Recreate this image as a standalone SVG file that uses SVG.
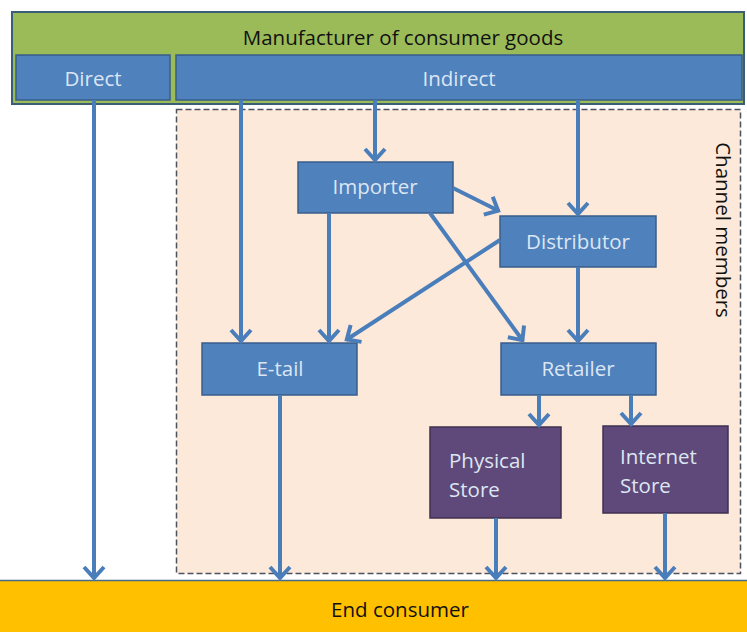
<svg xmlns="http://www.w3.org/2000/svg" width="747" height="632" viewBox="0 0 747 632">
<defs>
<style>
.blue{fill:#4f81bd;stroke:#385d8a;stroke-width:1.5}
.purple{fill:#5f497a;stroke:#3f3151;stroke-width:1.5}
.lt{font-family:"Open Sans","Noto Sans","Liberation Sans",sans-serif;font-size:20.5px;fill:#dce6f2}
.dk{font-family:"Open Sans","Noto Sans","Liberation Sans",sans-serif;font-size:20.5px;fill:#111111}
.c{text-anchor:middle}
.arr{stroke:#4a7ebb;stroke-width:4;fill:none;marker-end:url(#ah)}
</style>
<marker id="ah" markerUnits="userSpaceOnUse" markerWidth="30" markerHeight="30" viewBox="-15 -15 30 30" refX="0" refY="0" orient="auto">
<path d="M-12,-10 L-1,0 L-12,10" fill="none" stroke="#4a7ebb" stroke-width="4"/>
</marker>
</defs>
<rect width="747" height="632" fill="#ffffff"/>
<g id="channel-members">
<rect x="176.5" y="109.5" width="564" height="464" fill="#fde9d9" stroke="#4d5260" stroke-width="1.5" stroke-dasharray="6,3"/>
<text class="dk c" transform="translate(716,230) rotate(90)">Channel members</text>
</g>
<g id="manufacturer">
<rect x="12" y="12" width="732" height="92" fill="#9bbb59" stroke="#3b5e78" stroke-width="2"/>
<text class="dk c" x="403" y="45">Manufacturer of consumer goods</text>
</g>
<g id="direct">
<rect class="blue" x="16" y="55" width="154" height="45"/>
<text class="lt c" x="93" y="86">Direct</text>
</g>
<g id="indirect">
<rect class="blue" x="176" y="55" width="566" height="45"/>
<text class="lt c" x="459" y="86">Indirect</text>
</g>
<g id="importer">
<rect class="blue" x="298" y="162" width="155" height="51"/>
<text class="lt c" x="375" y="194">Importer</text>
</g>
<g id="distributor">
<rect class="blue" x="500" y="216" width="156" height="51"/>
<text class="lt c" x="578" y="249">Distributor</text>
</g>
<g id="etail">
<rect class="blue" x="202" y="343" width="155" height="52"/>
<text class="lt c" x="280" y="376">E-tail</text>
</g>
<g id="retailer">
<rect class="blue" x="501" y="343" width="155" height="52"/>
<text class="lt c" x="578" y="376">Retailer</text>
</g>
<g id="physical-store">
<rect class="purple" x="430" y="427" width="131" height="91"/>
<text class="lt" x="449" y="468">Physical</text>
<text class="lt" x="449" y="497">Store</text>
</g>
<g id="internet-store">
<rect class="purple" x="603" y="426" width="125" height="87"/>
<text class="lt" x="620" y="464">Internet</text>
<text class="lt" x="620" y="493">Store</text>
</g>
<g id="end-consumer">
<rect x="0" y="580" width="747" height="52" fill="#ffc000"/>
<line x1="0" y1="580.5" x2="747" y2="580.5" stroke="#4a6a8a" stroke-width="1.5"/>
<text class="dk c" x="400" y="617">End consumer</text>
</g>
<g id="connectors">
<line class="arr" x1="94" y1="100" x2="94" y2="579"/>
<line class="arr" x1="241" y1="100" x2="241" y2="342"/>
<line class="arr" x1="375" y1="100" x2="375" y2="161"/>
<line class="arr" x1="578" y1="100" x2="578" y2="215"/>
<line class="arr" x1="453" y1="188" x2="499" y2="211"/>
<line class="arr" x1="329" y1="213" x2="329" y2="342"/>
<line class="arr" x1="500" y1="240" x2="346" y2="340"/>
<line class="arr" x1="430" y1="213" x2="523" y2="341"/>
<line class="arr" x1="578" y1="267" x2="578" y2="342"/>
<line class="arr" x1="539" y1="395" x2="539" y2="426"/>
<line class="arr" x1="631" y1="395" x2="631" y2="425"/>
<line class="arr" x1="280" y1="395" x2="280" y2="579"/>
<line class="arr" x1="496" y1="518" x2="496" y2="579"/>
<line class="arr" x1="665" y1="513" x2="665" y2="579"/>
</g>
</svg>
